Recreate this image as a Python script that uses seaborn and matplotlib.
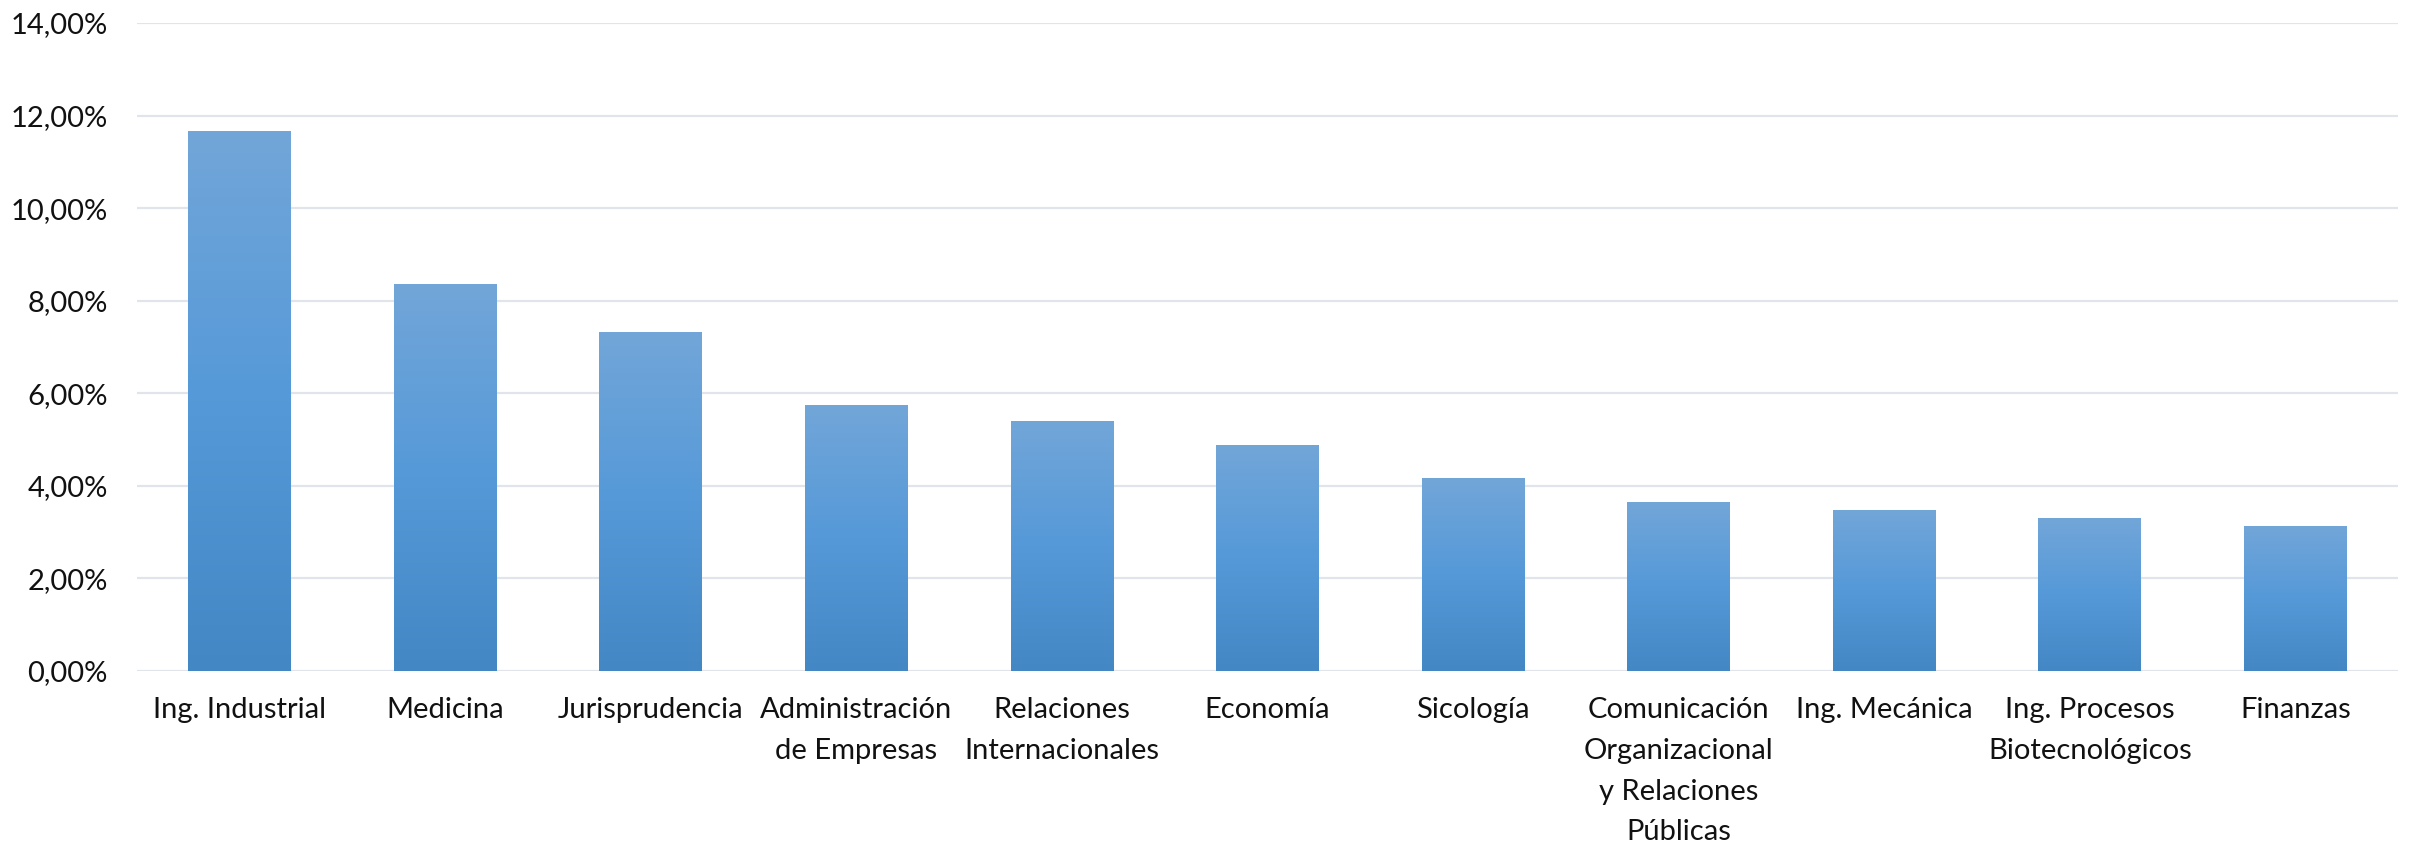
import numpy as np
import pandas as pd
import matplotlib
matplotlib.use("Agg")
import matplotlib.pyplot as plt
from matplotlib.colors import LinearSegmentedColormap
from matplotlib.ticker import FuncFormatter
import seaborn as sns

# Share of students by degree programme (%)
carreras = [
    "Ing. Industrial",
    "Medicina",
    "Jurisprudencia",
    "Administración\nde Empresas",
    "Relaciones\nInternacionales",
    "Economía",
    "Sicología",
    "Comunicación\nOrganizacional\ny Relaciones\nPúblicas",
    "Ing. Mecánica",
    "Ing. Procesos\nBiotecnológicos",
    "Finanzas",
]
porcentajes = [11.65, 8.35, 7.32, 5.74, 5.40, 4.88, 4.17, 3.65, 3.47, 3.30, 3.13]
y_ticks = [0, 2, 4, 6, 8, 10, 12, 14]

df = pd.DataFrame({"carrera": carreras, "porcentaje": porcentajes})

sns.set_theme(style="whitegrid")
plt.rcParams["font.family"] = ["Lato", "DejaVu Sans"]

fig = plt.figure(figsize=(24.15, 8.44), dpi=100)
ax = fig.add_axes([0.0567, 0.205, 0.9363, 0.7677])

sns.barplot(data=df, x="carrera", y="porcentaje", ax=ax, width=0.5,
            color="#5B9BD5", saturation=1, edgecolor="none")

# vertical gradient fill for each bar
cmap = LinearSegmentedColormap.from_list(
    "bar_grad", ["#4487C5", "#5599D8", "#72A6D9"])
grad = np.linspace(0, 1, 256).reshape(-1, 1)
for p in ax.patches:
    x0, w, h = p.get_x(), p.get_width(), p.get_height()
    ax.imshow(grad, extent=[x0, x0 + w, 0, h], origin="lower",
              cmap=cmap, aspect="auto", zorder=2, interpolation="bilinear")
    p.set_visible(False)

ax.set_xlim(-0.5, len(carreras) - 0.5)
ax.set_ylim(0, 14)
ax.set_yticks(y_ticks)
ax.yaxis.set_major_formatter(
    FuncFormatter(lambda v, _: f"{v:.2f}".replace(".", ",") + "%"))

ax.set_axisbelow(True)
ax.grid(axis="y", color="#E1E4EA", linewidth=1.6)
ax.grid(axis="x", visible=False)
for s in ax.spines.values():
    s.set_visible(False)

ax.set_xlabel("")
ax.set_ylabel("")
ax.tick_params(axis="y", length=0, pad=21, labelsize=21, labelcolor="#111111")
ax.tick_params(axis="x", length=0, pad=19, labelsize=21, labelcolor="#111111")
for lbl in ax.get_xticklabels():
    lbl.set_linespacing(1.7)
    lbl.set_horizontalalignment("center")
    lbl.set_verticalalignment("top")

fig.savefig("out.png", dpi=100, facecolor="white")
